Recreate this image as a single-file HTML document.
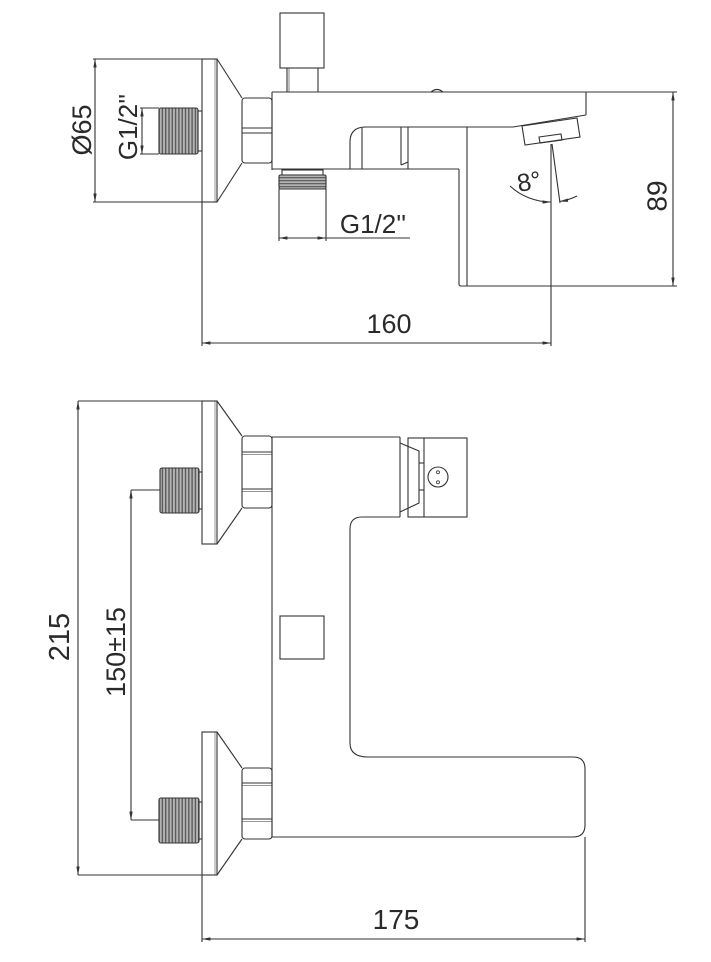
<!DOCTYPE html>
<html><head><meta charset="utf-8"><style>
html,body{margin:0;padding:0;background:#fff;}
svg{display:block;}
text{font-family:"Liberation Sans",sans-serif;fill:#2a2a2a;}
</style></head><body>
<svg width="711" height="962" viewBox="0 0 711 962" xmlns="http://www.w3.org/2000/svg">
<defs>
<marker id="ar" viewBox="0 0 10 4" refX="10" refY="2" markerWidth="9" markerHeight="3.4" markerUnits="userSpaceOnUse" orient="auto-start-reverse"><path d="M0,0L10,2L0,4z" fill="#333"/></marker>
<pattern id="tv" patternUnits="userSpaceOnUse" width="3.3" height="20"><rect width="3.3" height="20" fill="#b4b4b4"/><line x1="0.7" y1="0" x2="0.7" y2="20" stroke="#555" stroke-width="1.3"/></pattern>
<pattern id="th" patternUnits="userSpaceOnUse" width="20" height="3"><rect width="20" height="3" fill="#b4b4b4"/><line x1="0" y1="0.7" x2="20" y2="0.7" stroke="#555" stroke-width="1.2"/></pattern>
</defs>

<g stroke="#333" stroke-width="1.1" fill="none">
<!-- ===== TOP VIEW ===== -->
<rect x="280" y="13" width="44" height="55"/>
<line x1="287" y1="68" x2="287" y2="92"/>
<line x1="289" y1="68" x2="289" y2="92" stroke-width="0.6"/>
<line x1="318" y1="68" x2="318" y2="92"/>
<rect x="202" y="59" width="15" height="143"/>
<line x1="215" y1="59" x2="215" y2="202" stroke-width="0.5"/>
<line x1="217" y1="59" x2="242" y2="98"/>
<line x1="217" y1="202" x2="242" y2="163"/>
<rect x="242" y="98" width="30" height="65" rx="3"/>
<line x1="242" y1="128" x2="272" y2="128"/>
<line x1="242" y1="133" x2="272" y2="133"/>
<rect x="159" y="108" width="39" height="46" rx="2" fill="url(#tv)"/>
<rect x="198" y="111" width="4" height="40"/>
<line x1="272" y1="92" x2="586" y2="92"/>
<line x1="586" y1="92" x2="586" y2="115"/>
<line x1="272" y1="92" x2="272" y2="170"/>
<line x1="272" y1="169" x2="459" y2="169"/>
<path d="M350,169 V142 Q350,127 366,127 H513 L586,115"/>
<line x1="362" y1="128" x2="362" y2="169"/>
<line x1="401" y1="127" x2="401" y2="165"/>
<line x1="408" y1="127" x2="408" y2="169"/>
<line x1="401" y1="165" x2="408" y2="162"/>
<path d="M459,169 V284 Q459,286 461,286 H467"/>
<line x1="467" y1="127" x2="467" y2="286"/>
<path d="M431,92 Q437,87 443,92"/>
<polygon points="522,126 577,118 580,137 525,145"/>
<polygon points="539,137 561,134 562,140 540,143"/>
<rect x="282" y="170" width="41" height="5"/>
<rect x="279" y="175" width="47" height="14" rx="1.5" fill="url(#th)"/>

<line x1="95" y1="59" x2="95" y2="202" marker-start="url(#ar)" marker-end="url(#ar)"/>
<line x1="93" y1="59" x2="202" y2="59"/>
<line x1="93" y1="202" x2="202" y2="202"/>
<line x1="142" y1="108" x2="142" y2="154" marker-start="url(#ar)" marker-end="url(#ar)"/>
<line x1="140" y1="108" x2="159" y2="108"/>
<line x1="140" y1="154" x2="159" y2="154"/>
<line x1="279" y1="189" x2="279" y2="241"/>
<line x1="326" y1="189" x2="326" y2="241"/>
<line x1="279" y1="238" x2="326" y2="238" marker-start="url(#ar)" marker-end="url(#ar)"/>
<line x1="326" y1="238" x2="410" y2="238"/>
<line x1="202" y1="202" x2="202" y2="346"/>
<line x1="551" y1="144" x2="551" y2="346"/>
<line x1="202" y1="343" x2="551" y2="343" marker-start="url(#ar)" marker-end="url(#ar)"/>
<line x1="552" y1="144" x2="560" y2="203"/>
<path d="M510,186 A60,60 0 0 0 551,202" marker-end="url(#ar)"/>
<path d="M577,196 A60,60 0 0 1 559.5,201.5" marker-end="url(#ar)"/>
<line x1="586" y1="92" x2="677" y2="92"/>
<line x1="467" y1="286" x2="677" y2="286"/>
<line x1="673" y1="92" x2="673" y2="286" marker-start="url(#ar)" marker-end="url(#ar)"/>

<!-- ===== FRONT VIEW ===== -->
<rect x="202" y="401" width="15" height="143"/>
<line x1="215" y1="401" x2="215" y2="544" stroke-width="0.5"/>
<line x1="217" y1="401" x2="242" y2="436"/>
<line x1="217" y1="544" x2="242" y2="508"/>
<rect x="242" y="436" width="30" height="72" rx="3"/>
<line x1="242" y1="452" x2="272" y2="452"/>
<line x1="242" y1="454.5" x2="272" y2="454.5" stroke-width="0.6"/>
<line x1="242" y1="489" x2="272" y2="489"/>
<line x1="242" y1="491.5" x2="272" y2="491.5" stroke-width="0.6"/>
<rect x="160" y="468" width="39" height="45" rx="2" fill="url(#tv)"/>
<rect x="199" y="472" width="3" height="37"/>

<rect x="202" y="732" width="15" height="143"/>
<line x1="215" y1="732" x2="215" y2="875" stroke-width="0.5"/>
<line x1="217" y1="732" x2="242" y2="768"/>
<line x1="217" y1="875" x2="242" y2="839"/>
<rect x="242" y="768" width="30" height="71" rx="3"/>
<line x1="242" y1="783" x2="272" y2="783"/>
<line x1="242" y1="785.5" x2="272" y2="785.5" stroke-width="0.6"/>
<line x1="242" y1="819" x2="272" y2="819"/>
<line x1="242" y1="821.5" x2="272" y2="821.5" stroke-width="0.6"/>
<rect x="159" y="798" width="40" height="45" rx="2" fill="url(#tv)"/>
<rect x="199" y="802" width="3" height="37"/>

<line x1="272" y1="437" x2="400" y2="437"/>
<line x1="400" y1="437" x2="400" y2="517"/>
<line x1="272" y1="437" x2="272" y2="837"/>
<path d="M400,517 H362 Q350,517 350,529 V743 Q350,757 368,757 H573 Q585,757 585,769 V825 Q585,837 573,837 H272"/>
<rect x="280" y="616" width="44" height="43"/>
<rect x="408" y="438" width="59" height="79"/>
<line x1="424" y1="438" x2="424" y2="517"/>
<path d="M400,443 L419,451 V503 L400,512"/>
<line x1="419" y1="463" x2="424" y2="463"/>
<line x1="419" y1="490" x2="424" y2="490"/>
<circle cx="438" cy="477" r="10"/>
<circle cx="438" cy="472.3" r="1.5" stroke-width="0.8"/>
<circle cx="438" cy="482.3" r="1.5" stroke-width="0.8"/>

<line x1="78" y1="401" x2="202" y2="401"/>
<line x1="78" y1="875" x2="202" y2="875"/>
<line x1="78" y1="401" x2="78" y2="875" marker-start="url(#ar)" marker-end="url(#ar)"/>
<line x1="131" y1="490" x2="160" y2="490"/>
<line x1="131" y1="820" x2="159" y2="820"/>
<line x1="131" y1="490" x2="131" y2="820" marker-start="url(#ar)" marker-end="url(#ar)"/>
<line x1="202" y1="875" x2="202" y2="942"/>
<line x1="585" y1="837" x2="585" y2="942"/>
<line x1="202" y1="939" x2="585" y2="939" marker-start="url(#ar)" marker-end="url(#ar)"/>
</g>

<text x="82" y="130" font-size="27" text-anchor="middle" dominant-baseline="central" transform="rotate(-90 82 130)">Ø65</text>
<text x="128" y="127" font-size="26" text-anchor="middle" dominant-baseline="central" transform="rotate(-90 128 127)">G1/2''</text>
<text x="373" y="233" font-size="26" text-anchor="middle">G1/2''</text>
<text x="389" y="333" font-size="27" text-anchor="middle">160</text>
<text x="529" y="190" font-size="25" text-anchor="middle" transform="rotate(-10 529 181)">8°</text>
<text x="657" y="196" font-size="28" text-anchor="middle" dominant-baseline="central" transform="rotate(-90 657 196)">89</text>
<text x="60" y="637" font-size="29" text-anchor="middle" dominant-baseline="central" transform="rotate(-90 60 637)">215</text>
<text x="116" y="652" font-size="27" text-anchor="middle" dominant-baseline="central" transform="rotate(-90 116 652)">150±15</text>
<text x="396" y="929" font-size="28" text-anchor="middle">175</text>
</svg>
</body></html>
